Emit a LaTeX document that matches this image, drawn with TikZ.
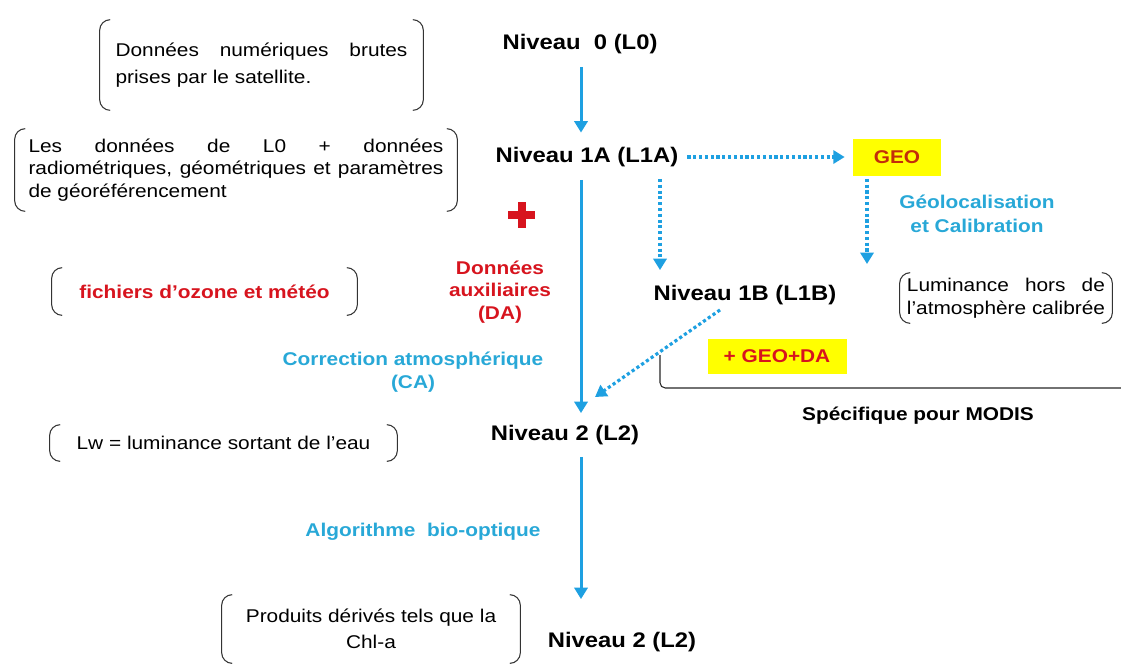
\documentclass[tikz,border=0pt]{standalone}
\usepackage{fontspec}
\setmainfont{Liberation Sans}[FakeStretch=1.13]
\usetikzlibrary{arrows.meta}

\definecolor{bleu}{RGB}{30,160,225}
\definecolor{cyanlabel}{RGB}{40,168,215}
\definecolor{rouge}{RGB}{215,20,30}
\definecolor{brun}{RGB}{195,45,10}
\definecolor{jaune}{RGB}{255,255,0}

\tikzset{
  niveau/.style={font=\fontsize{12}{14}\selectfont\bfseries, inner sep=1pt},
  texte/.style={font=\fontsize{10.5}{13}\selectfont, inner sep=0pt, align=left},
  etiq/.style={font=\fontsize{10.5}{14}\selectfont\bfseries, text=cyanlabel, align=center},
  etiqrouge/.style={etiq, text=rouge},
  jaunebox/.style={fill=jaune, text=brun, font=\fontsize{10.5}{12}\selectfont\bfseries},
  fleche/.style={draw=bleu, line width=1.7pt, -{Triangle[width=7.5pt,length=6.5pt]}},
  pointille/.style={draw=bleu, line width=1.8pt, dash pattern=on 1.8pt off 1.5pt,
    -{Triangle[width=7.5pt,length=6.5pt]}},
  parenth/.style={draw=black!80, line width=0.6pt, rounded corners=6pt}
}

% parentheses autour d'un noeud
\newcommand\parentheses[1]{%
  \draw[parenth] ([xshift=6pt]#1.north west) -| (#1.south west) -- ([xshift=6pt]#1.south west);
  \draw[parenth] ([xshift=-6pt]#1.north east) -| (#1.south east) -- ([xshift=-6pt]#1.south east);}

\begin{document}
\begin{tikzpicture}[x=0.02cm, y=-0.02cm]
\useasboundingbox (0,0) rectangle (1121,664);

% niveaux de traitement
\node[niveau] (n0) at (580,44) {Niveau\ \ 0 (L0)};
\node[niveau] (n1a) at (587,157) {Niveau 1A (L1A)};
\node[niveau] (n1b) at (745,295) {Niveau 1B (L1B)};
\node[niveau] (n2) at (565,435) {Niveau 2 (L2)};
\node[niveau] (n2b) at (622,642) {Niveau 2 (L2)};

\node[jaunebox, minimum width=1.76cm, minimum height=0.74cm] (geo) at (897,157) {GEO};
\node[jaunebox, minimum width=2.78cm, minimum height=0.7cm, text=rouge] (geoda) at (777,356) {+ GEO+DA};

% textes entre parentheses
\node[texte, font=\fontsize{10.5}{15.3}\selectfont, minimum width=6.46cm, minimum height=1.8cm] (brutes) at (261.5,65)
  {\makebox[5.84cm][s]{Données numériques brutes}\\prises par le satellite.};
\node[texte, font=\fontsize{10.5}{12.8}\selectfont, minimum width=8.84cm, minimum height=1.64cm] (lzero) at (236,170)
  {\makebox[8.3cm][s]{Les données de L0 + données}\\
   \makebox[8.3cm][s]{radiométriques, géométriques et paramètres}\\de géoréférencement};
\node[texte, text=rouge, font=\fontsize{10.5}{12}\selectfont\bfseries, minimum width=6.1cm, minimum height=0.94cm] (fichiers) at (204.5,291.5)
  {fichiers d'ozone et météo};
\node[texte, minimum width=6.94cm, minimum height=0.72cm] (lw) at (223.5,443)
  {Lw = luminance sortant de l'eau};
\node[texte, align=center, font=\fontsize{10.5}{14.7}\selectfont, minimum width=5.96cm, minimum height=1.36cm] (produits) at (371,629)
  {Produits dérivés tels que la\\Chl-a};
\node[texte, font=\fontsize{10.5}{13}\selectfont, minimum width=4.24cm, minimum height=1cm] (lum) at (1006,298)
  {\makebox[3.96cm][s]{Luminance hors de}\\l'atmosphère calibrée};
\foreach \b in {brutes,lzero,fichiers,lw,produits,lum} {\parentheses{\b}}

% etiquettes
\node[etiq] (geoloc) at (977,214) {Géolocalisation\\et Calibration};
\node[etiqrouge, font=\fontsize{10.5}{12.8}\selectfont\bfseries] (da) at (500,292) {Données\\auxiliaires\\(DA)};
\node[etiq, font=\fontsize{10.5}{13}\selectfont\bfseries] (ca) at (413,372) {Correction atmosphérique\\(CA)};
\node[etiq] (algo) at (423,532) {Algorithme\ \ bio-optique};
\node[font=\fontsize{10.5}{12}\selectfont\bfseries] (modis) at (918,416) {Spécifique pour MODIS};

% croix rouge
\fill[rouge] (508,211) rectangle (535,219);
\fill[rouge] (517.5,202) rectangle (525.5,228);

% fleches
\coordinate (axe) at (581,0);
\coordinate (axec) at (660,0);
\coordinate (geobas) at (867,264);
\coordinate (cible) at (595,397);

\draw[fleche, shorten <=0.22cm, shorten >=0.25cm] (n0.south -| axe) -- (n1a.north -| axe);
\draw[fleche, shorten <=0.22cm, shorten >=0.2cm] (n1a.south -| axe) -- (n2.north -| axe);
\draw[fleche, shorten <=0.2cm, shorten >=0.62cm] (n2.south -| axe) -- (n2b.north -| axe);

\draw[pointille, shorten <=0.14cm, shorten >=0.16cm] (n1a.east) -- (geo.west);
\draw[pointille, shorten <=0.2cm, shorten >=0.26cm] (n1a.south -| axec) -- (n1b.north -| axec);
\draw[pointille, shorten <=0.06cm] (geo.south -| geobas) -- (geobas);
\draw[pointille] ([xshift=-0.5cm,yshift=-0.06cm]n1b.south) -- (cible);

% accolade MODIS
\draw[black!85, line width=0.6pt, rounded corners=3pt] (660,355) -- (660,388) -- (1121,388);
\end{tikzpicture}
\end{document}
